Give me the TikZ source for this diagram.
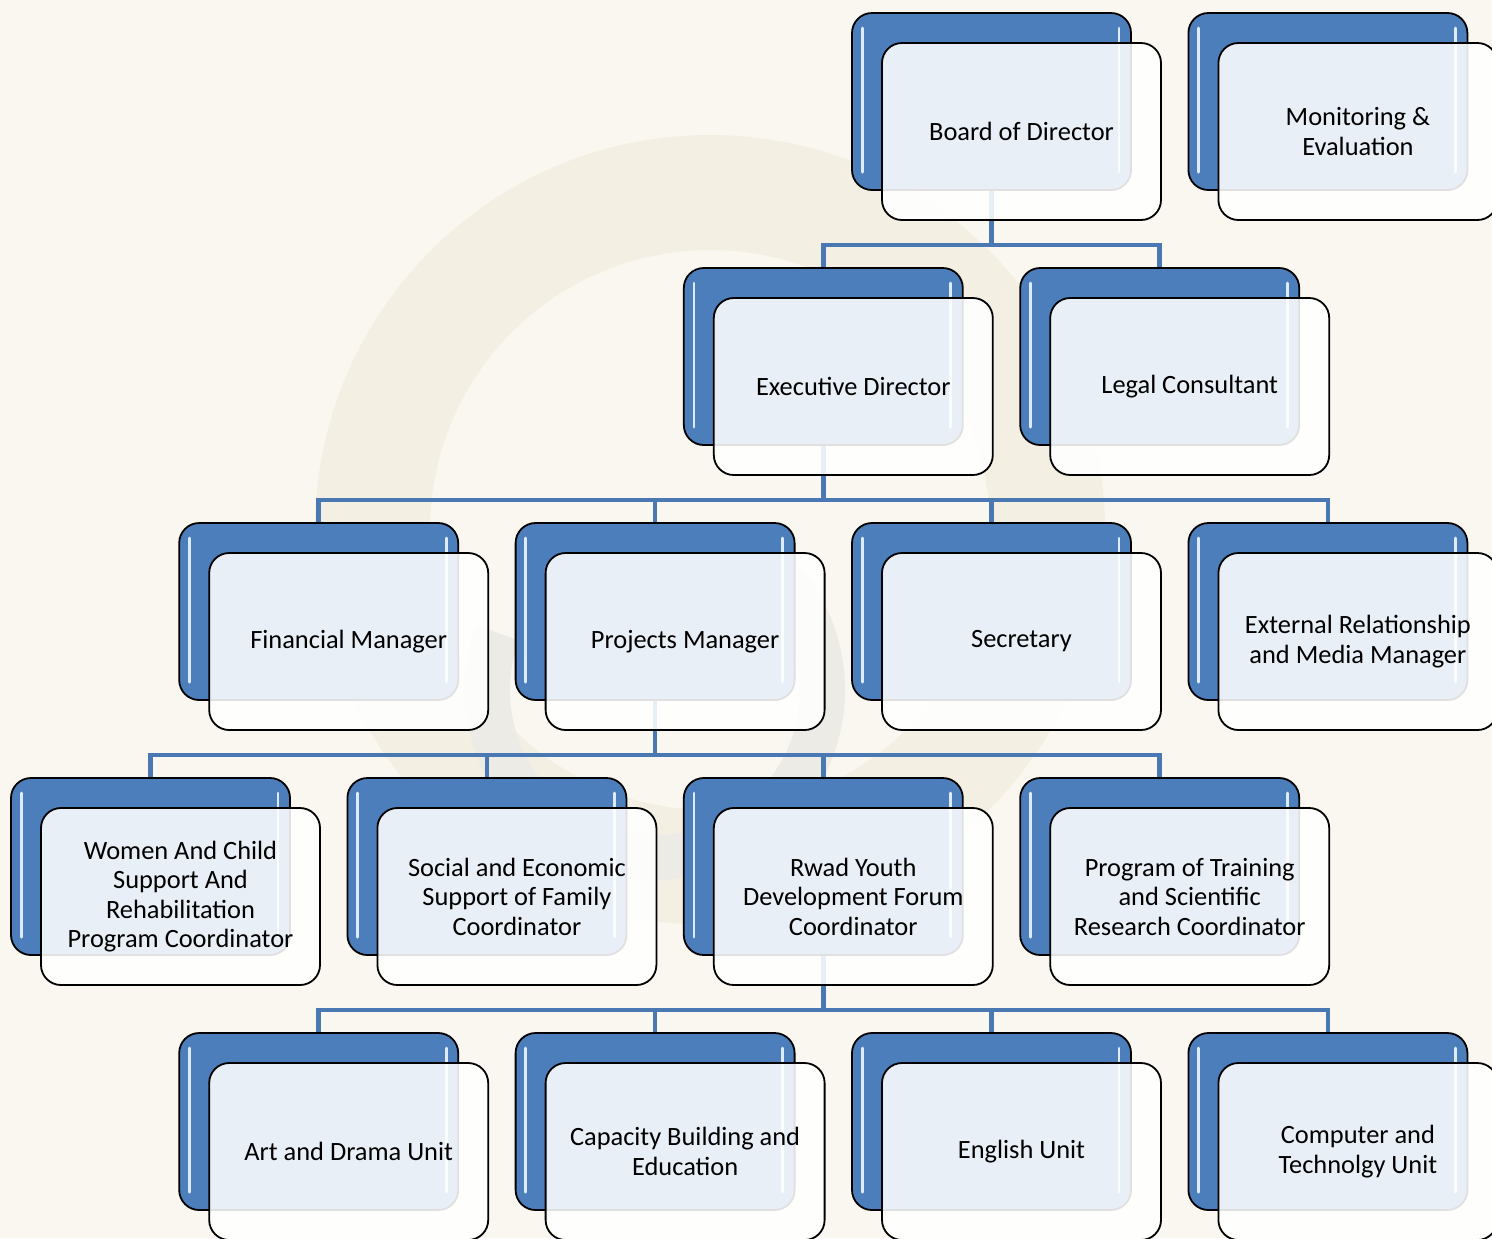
\documentclass[tikz,border=0pt]{standalone}
\usepackage{fontspec}
\setmainfont{Carlito}
\definecolor{bgc}{HTML}{F9F7F0}
\definecolor{ringc}{HTML}{F3EFE3}
\definecolor{grayc}{HTML}{EDEBE5}
\definecolor{boxblue}{HTML}{4C7EBC}
\definecolor{connblue}{HTML}{4A78B2}
\definecolor{glossc}{HTML}{DDEBFA}
\pgfdeclarelayer{wm}
\pgfdeclarelayer{lines}
\pgfsetlayers{wm,lines,main}
\tikzset{
  bluebox/.style={draw=black, line width=0.9pt, rounded corners=10pt, fill=boxblue,
    minimum width=139.5pt, minimum height=88.5pt, inner sep=0pt},
  frontbox/.style={draw=black, line width=0.9pt, rounded corners=10pt, fill=white,
    fill opacity=0.88, text opacity=1, minimum width=139.5pt, minimum height=88.5pt,
    inner sep=0pt, align=center, text=black, font=\fontsize{13.2}{14.75}\selectfont},
  gloss/.style={draw=glossc, line width=1.4pt, line cap=round},
  conn/.style={draw=connblue, line width=2.3pt}
}
\newcommand\orgbox[4]{%
  \node[bluebox] (#1) at ({11+168.2*#2+139.5},{13+255*#3+88.5}) {};
  \draw[gloss] (#1.north west) ++(11,16) -- ++(0,144);
  \draw[gloss] (#1.north east) ++(-13,16) -- ++(0,144);
  \node[frontbox] (#1f) at ({41+168.2*#2+139.5},{43+255*#3+88.5}) {#4};
}
\begin{document}
\begin{tikzpicture}[x=0.5pt,y=-0.5pt]
\useasboundingbox (0,0) rectangle (1492,1238);
\clip (0,0) rectangle (1492,1238);
\begin{pgfonlayer}{wm}
  \fill[bgc] (0,0) rectangle (1492,1238);
  \fill[ringc,even odd rule] (710,530) circle[radius=395] (710,530) circle[radius=280];
  \fill[grayc] (655,690) ++(-40:190) arc[start angle=-40, end angle=200, radius=190]
    -- ++(200:-45) arc[start angle=200, end angle=-40, radius=145] -- cycle;
\end{pgfonlayer}

\orgbox{bod}{5}{0}{Board of Director}
\orgbox{mon}{7}{0}{Monitoring \&\\Evaluation}
\orgbox{exec}{4}{1}{Executive Director}
\orgbox{legal}{6}{1}{Legal Consultant}
\orgbox{fin}{1}{2}{Financial Manager}
\orgbox{proj}{3}{2}{Projects Manager}
\orgbox{sec}{5}{2}{Secretary}
\orgbox{ext}{7}{2}{External Relationship\\and Media Manager}
\orgbox{wom}{0}{3}{Women And Child\\Support And\\Rehabilitation\\Program Coordinator}
\orgbox{soc}{2}{3}{Social and Economic\\Support of Family\\Coordinator}
\orgbox{rwad}{4}{3}{Rwad Youth\\Development Forum\\Coordinator}
\orgbox{prog}{6}{3}{Program of Training\\and Scientific\\Research Coordinator}
\orgbox{art}{1}{4}{Art and Drama Unit}
\orgbox{cap}{3}{4}{Capacity Building and\\Education}
\orgbox{eng}{5}{4}{English Unit}
\orgbox{comp}{7}{4}{Computer and\\Technolgy Unit}

\begin{pgfonlayer}{lines}
  \draw[conn] (bod.south) -- ++(0,54) -| (exec.north);
  \draw[conn] (bod.south) -- ++(0,54) -| (legal.north);
  \foreach \c in {fin,proj,sec,ext}
    \draw[conn] (exec.south) -- ++(0,54) -| (\c.north);
  \foreach \c in {wom,soc,rwad,prog}
    \draw[conn] (proj.south) -- ++(0,54) -| (\c.north);
  \foreach \c in {art,cap,eng,comp}
    \draw[conn] (rwad.south) -- ++(0,54) -| (\c.north);
\end{pgfonlayer}
\end{tikzpicture}
\end{document}
